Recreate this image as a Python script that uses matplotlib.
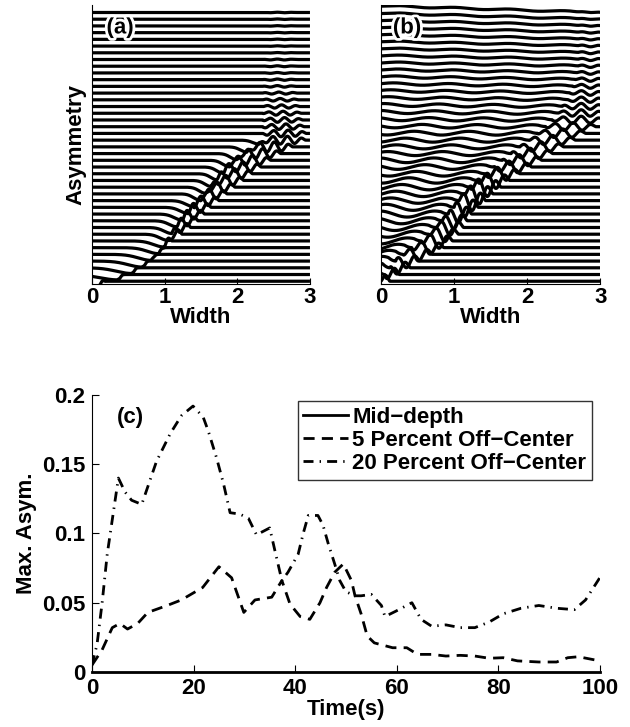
import numpy as np
import matplotlib.pyplot as plt
from matplotlib import patheffects

plt.rcParams['font.family'] = ['Liberation Sans', 'DejaVu Sans']
plt.rcParams['font.weight'] = 'bold'
plt.rcParams['axes.labelweight'] = 'bold'
plt.rcParams['font.size'] = 16

# --- waterfall traces (one per row, row 0 at the bottom) ---
# panel (a): leading edge, trailing front, trough depth / reach, packet amplitude
lead_a = [0.18, 0.38, 0.56, 0.72, 0.86, 0.98, 1.10, 1.24, 1.36, 1.46,
          1.55, 1.64, 1.75, 1.86, 1.97, 2.09, 2.21, 2.33, 2.46, 2.60,
          2.76, 2.94, 2.95, 2.92, 2.90, 2.88, 2.86, 2.84, 2.82, 2.80,
          2.80, 2.80, 2.80, 2.80, 2.80, 2.80, 2.80, 2.80, 2.80, 2.80, 2.80]
trail_a = [0.10, 0.36, 0.55, 0.70, 0.82, 0.92, 0.99, 1.04, 1.10, 1.17,
           1.24, 1.32, 1.40, 1.48, 1.56, 1.64, 1.72, 1.80, 1.88, 1.99,
           2.13, 2.30, 2.35, 2.35, 2.35, 2.35, 2.35, 2.35, 2.35, 2.35,
           2.35, 2.35, 2.35, 2.35, 2.35, 2.35, 2.35, 2.35, 2.35, 2.35, 2.35]
depth_a = [0.7, 0.8, 0.85, 0.9, 0.9, 0.9, 0.9, 0.9, 0.9, 0.9,
           0.9, 0.9, 0.9, 0.9, 0.9, 0.9, 0.9, 0.9, 0.9, 0.9,
           0.8, 0.6, 0, 0, 0, 0, 0, 0, 0, 0,
           0, 0, 0, 0, 0, 0, 0, 0, 0, 0, 0]
reach_a = [0.35, 0.35, 0.30, 0.28, 0.25, 0.22, 0.20, 0.15, 0.15, 0.15,
           0.15, 0.15, 0.15, 0.12, 0.12, 0.12, 0.12, 0.12, 0.12, 0.12,
           0.12, 0.12, 0.1, 0.1, 0.1, 0.1, 0.1, 0.1, 0.1, 0.1,
           0.1, 0.1, 0.1, 0.1, 0.1, 0.1, 0.1, 0.1, 0.1, 0.1, 0.1]
amp_a = [0.3, 0.3, 0.3, 0.3, 0.3, 0.3, 0.5, 0.75, 0.75, 0.75,
         0.75, 0.75, 0.75, 0.75, 0.75, 0.75, 0.75, 0.75, 0.75, 0.75,
         0.75, 0.6, 0.5, 0.42, 0.36, 0.30, 0.25, 0.20, 0.16, 0.12,
         0.10, 0.07, 0.07, 0.07, 0.04, 0.04, 0.04, 0.04, 0.04, 0.04, 0.04]

# panel (b): leading edge, trailing front, packet amplitude, swell behind front, tilt
lead_b = [0.12, 0.25, 0.40, 0.53, 0.70, 0.86, 0.98, 1.06, 1.13, 1.18,
          1.24, 1.33, 1.43, 1.53, 1.64, 1.76, 1.90, 2.06, 2.20, 2.35,
          2.50, 2.66, 2.80, 2.94, 3.05, 3.05, 3.05, 3.05, 3.05, 3.05,
          3.05, 3.05, 3.05, 3.05, 3.05, 3.05, 3.05, 3.05, 3.05, 3.05, 3.05]
trail_b = [0.00, 0.05, 0.12, 0.20, 0.30, 0.42, 0.55, 0.65, 0.75, 0.84,
           0.92, 1.00, 1.07, 1.14, 1.22, 1.32, 1.42, 1.54, 1.66, 1.78,
           1.90, 2.02, 2.14, 2.25, 2.34, 2.42, 2.48, 2.54, 2.58, 2.62,
           2.65, 2.68, 2.70, 2.70, 2.70, 2.70, 2.70, 2.70, 2.70, 2.70, 2.70]
amp_b = [0.9, 1.0, 1.0, 1.0, 1.0, 1.0, 1.1, 1.1, 1.15, 1.2,
         1.3, 1.4, 1.5, 1.5, 1.4, 1.2, 1.0, 0.9, 0.85, 0.8,
         0.75, 0.7, 0.65, 0.6, 0.55, 0.5, 0.45, 0.4, 0.35, 0.3,
         0.26, 0.22, 0.2, 0.18, 0.16, 0.14, 0.12, 0.1, 0.08, 0.06, 0.05]
swell_b = [1.0, 0.9, 0.8, 0.7, 0.6, 0.5, 0.45, 0.45, 0.45, 0.45,
           0.45, 0.45, 0.4, 0.4, 0.4, 0.4, 0.35, 0.35, 0.35, 0.3,
           0.3, 0.3, 0.28, 0.26, 0.24, 0.22, 0.2, 0.18, 0.16, 0.15,
           0.14, 0.13, 0.12, 0.11, 0.1, 0.1, 0.1, 0.1, 0.1, 0.1, 0.1]
tilt_b = [0, 0, 0, 0, 0, 0, 0, 0, 0, 0,
          0, 0, 0, 0, 0, 0, 0, 0, 0, 0,
          0, 0, 0.05, 0.1, 0.15, 0.2, 0.25, 0.3, 0.35, 0.4,
          0.45, 0.5, 0.55, 0.6, 0.65, 0.7, 0.75, 0.8, 0.85, 0.9, 1.0]

# --- panel (c): maximum asymmetry vs time ---
t_mid = [0, 100]
v_mid = [0, 0]
t_5 = [0, 2, 4, 5.5, 7, 9, 11, 14.8, 17.6, 21.8, 25, 27.5, 29.9, 32.1, 35.4,
       37.4, 39, 41, 42.9, 44.9, 46.2, 47.8, 49.5, 51.1, 51.8, 53, 54.2, 55.6,
       59.2, 62, 64.1, 66.9, 69.7, 72.5, 75.4, 78.2, 81, 83.8, 88, 91.5, 93.7,
       95.8, 100]
v_5 = [0.005, 0.016, 0.032, 0.035, 0.031, 0.035, 0.043, 0.048, 0.052, 0.061,
       0.076, 0.068, 0.043, 0.052, 0.054, 0.066, 0.049, 0.040, 0.038, 0.050,
       0.061, 0.072, 0.078, 0.066, 0.055, 0.042, 0.026, 0.021, 0.0175, 0.0175,
       0.0127, 0.0127, 0.0115, 0.012, 0.0115, 0.0099, 0.0103, 0.008, 0.0072,
       0.0072, 0.0103, 0.011, 0.008]
t_20 = [0, 1, 2, 3, 4, 5.2, 6.5, 7.8, 9.8, 12.7, 15.4, 17.6, 19.9, 21.9, 22.9,
        24.5, 25.9, 27.2, 29.1, 30.8, 32.4, 35, 36, 37.4, 38.6, 40.6, 41.6,
        42.6, 44.5, 45.5, 46.5, 47.8, 48.8, 50, 51.8, 53, 55, 57, 57.7, 59.9,
        63, 64.8, 66.9, 69.7, 72.5, 75.4, 78.2, 81, 84.5, 88, 91.5, 95, 97.2, 100]
v_20 = [0.005, 0.02, 0.05, 0.085, 0.11, 0.14, 0.13, 0.124, 0.121, 0.152, 0.172,
        0.185, 0.192, 0.184, 0.174, 0.155, 0.136, 0.115, 0.114, 0.111, 0.099,
        0.104, 0.088, 0.066, 0.072, 0.085, 0.100, 0.113, 0.113, 0.106, 0.093,
        0.078, 0.066, 0.058, 0.055, 0.055, 0.056, 0.048, 0.040, 0.044, 0.050,
        0.038, 0.033, 0.034, 0.032, 0.032, 0.036, 0.042, 0.046, 0.048, 0.046,
        0.045, 0.052, 0.068]

x = np.linspace(0, 3, 1200)


def packet(tr, ld, amp, lam):
    # oscillation between trailing front and leading edge
    span = max(ld - tr, 1e-3)
    u = np.clip((x - tr) / span, 0, 1)
    env = np.where((x >= tr) & (x <= ld), np.sin(np.pi * u) ** 0.5, 0.0)
    return amp * env * np.sin(2 * np.pi * (ld - x) / lam)


def row_a(k):
    y = np.full_like(x, float(k))
    d = x - trail_a[k]
    y -= depth_a[k] * np.where(d < 0, np.exp(-(d / reach_a[k]) ** 2),
                               np.exp(-(d / 0.04) ** 2))
    y += packet(trail_a[k], lead_a[k], amp_a[k], 0.2)
    return y


def row_b(k):
    y = k + tilt_b[k] * (1 - x / 3)
    d = trail_b[k] - x
    behind = np.clip(d / 0.1, 0, 1)
    y = y + swell_b[k] * behind * np.sin(2 * np.pi * d / 0.75)
    y += packet(trail_b[k], lead_b[k], amp_b[k], 0.25)
    return y


fig = plt.figure(figsize=(6.3, 7.27), dpi=100)
ax_a = fig.add_axes([0.146, 0.609, 0.346, 0.384])
ax_b = fig.add_axes([0.605, 0.609, 0.348, 0.384])
ax_c = fig.add_axes([0.146, 0.0757, 0.806, 0.381])

halo = [patheffects.withStroke(linewidth=4, foreground='white')]

for ax, rowfn, tag, tx in [(ax_a, row_a, '(a)', 0.2), (ax_b, row_b, '(b)', 0.16)]:
    for k in range(len(lead_a)):
        ax.plot(x, rowfn(k), color='black', lw=2.3, solid_capstyle='butt')
    ax.set_xlim(0, 3)
    ax.set_ylim(-0.45, 41.1)
    ax.set_xticks([0, 1, 2, 3])
    ax.set_yticks([])
    ax.tick_params(direction='in', length=4, labelsize=16, pad=2)
    for s in ['top', 'right']:
        ax.spines[s].set_visible(False)
    ax.set_xlabel('Width', fontsize=16, labelpad=-1)
    ax.text(tx, 37.7, tag, fontsize=16, fontweight='bold', va='center',
            path_effects=halo)

ax_a.set_ylabel('Asymmetry', fontsize=16, labelpad=4)

# panel (c)
ax_c.plot(t_mid, v_mid, '-', color='black', lw=2, clip_on=False,
          label='Mid\u2212depth')
ax_c.plot(t_5, v_5, color='black', lw=2, dashes=(4, 2.6),
          label='5 Percent Off\u2212Center')
ax_c.plot(t_20, v_20, color='black', lw=2, dashes=(3.6, 2.2, 0.5, 2.2),
          label='20 Percent Off\u2212Center')
ax_c.set_xlim(0, 100)
ax_c.set_ylim(0, 0.2)
ax_c.set_xticks([0, 20, 40, 60, 80, 100])
ax_c.set_yticks([0, 0.05, 0.1, 0.15, 0.2])
ax_c.set_yticklabels(['0', '0.05', '0.1', '0.15', '0.2'])
ax_c.tick_params(axis='x', direction='in', length=5, labelsize=16, pad=4)
ax_c.tick_params(axis='y', direction='in', length=5, labelsize=16, pad=5)
for s in ['top', 'right']:
    ax_c.spines[s].set_visible(False)
ax_c.set_xlabel('Time(s)', fontsize=16, labelpad=0)
ax_c.set_ylabel('Max. Asym.', fontsize=16, labelpad=3)
ax_c.text(5, 0.184, '(c)', fontsize=16, fontweight='bold', va='center')
leg = ax_c.legend(loc='upper right', bbox_to_anchor=(0.984, 0.978), fontsize=16,
                  frameon=True, fancybox=False, edgecolor='black',
                  handlelength=2.0, handletextpad=0.2, borderpad=0.25,
                  labelspacing=0.1, borderaxespad=0)
leg.get_frame().set_linewidth(1)

fig.savefig('out.png', dpi=100)
